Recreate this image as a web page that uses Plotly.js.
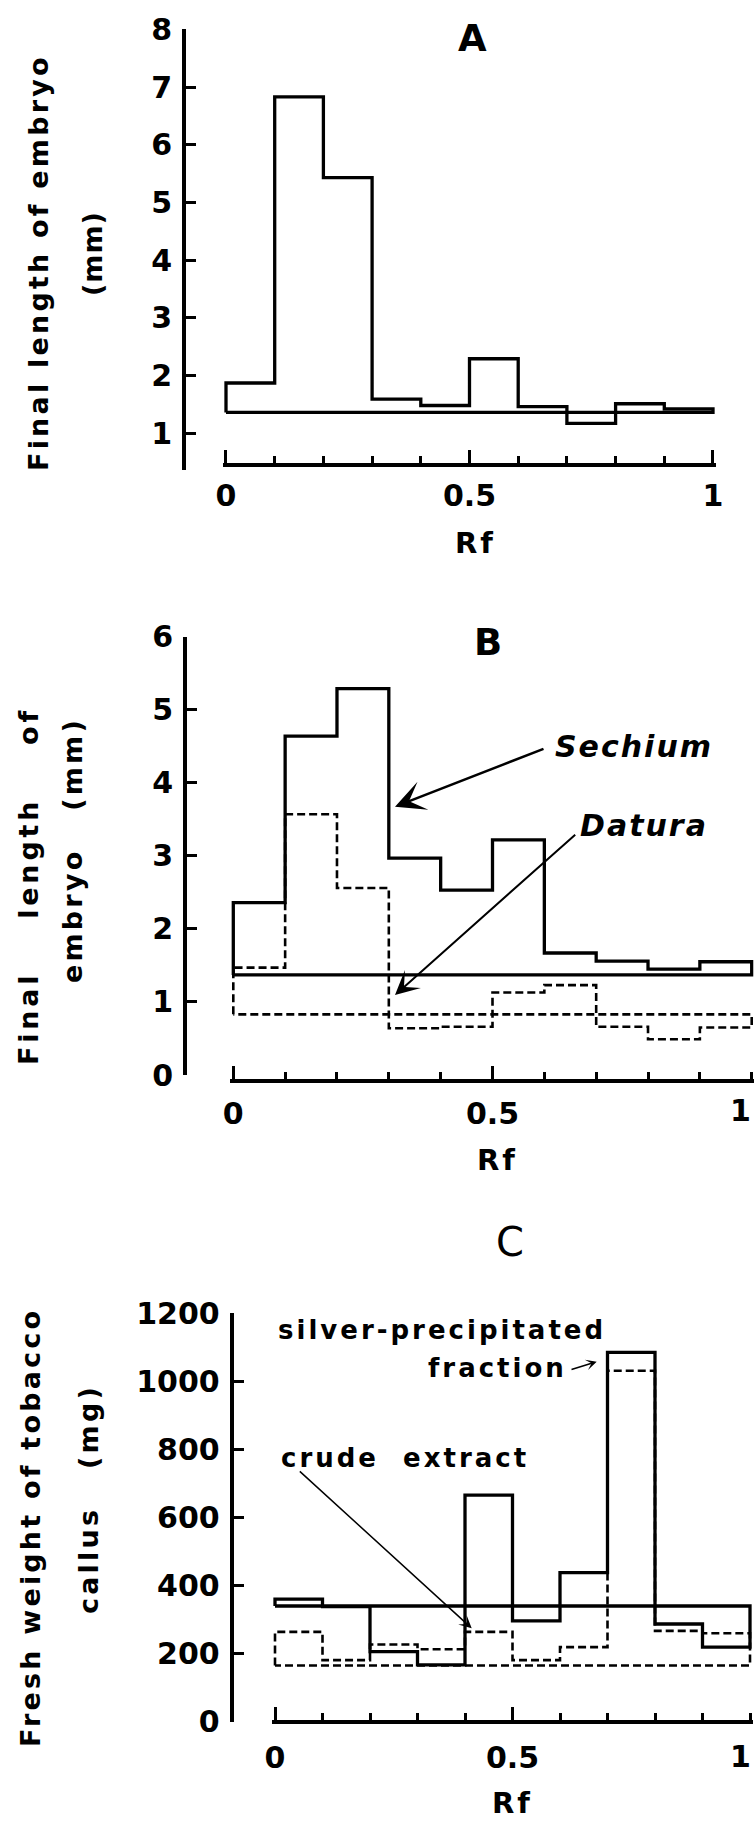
<!DOCTYPE html>
<html><head><meta charset="utf-8">
<script src="https://cdn.plot.ly/plotly-3.0.1.min.js"></script>
<style>
html,body{margin:0;padding:0;background:#fff;}
#chart{width:754px;height:1823px;}
</style>
</head><body><div id="chart"></div>
<script>
// ---------------- data ----------------
const rfEdges = [0, 0.1, 0.2, 0.3, 0.4, 0.5, 0.6, 0.7, 0.8, 0.9, 1.0];
const rfTickVals = [0, 0.5, 1];
const rfTickText = ['0', '0.5', '1'];
const rfTickTextEdge = ['0', '0.5', ''];   // right-edge panels: the "1" is written as an annotation inside the page

// Panel A: final length of embryo (mm)
const aLength = [1.87, 6.83, 5.43, 1.59, 1.48, 2.29, 1.46, 1.17, 1.51, 1.42];
const aControl = 1.36;
const aYTicks = [1, 2, 3, 4, 5, 6, 7, 8];

// Panel B: Sechium (solid) and Datura (dashed)
const bSechium = [2.36, 4.64, 5.29, 2.97, 2.53, 3.22, 1.67, 1.56, 1.45, 1.55];
const bSechiumControl = 1.37;
const bDatura = [1.47, 3.57, 2.56, 0.64, 0.66, 1.13, 1.23, 0.66, 0.49, 0.65];
const bDaturaControl = 0.83;
const bYTicks = [0, 1, 2, 3, 4, 5, 6];

// Panel C: fresh weight of tobacco callus (mg)
const cSilver = [360, 338, 206, 167, 666, 296, 438, 1085, 287, 219];
const cSilverControl = 340;
const cCrude = [264, 181, 227, 213, 264, 181, 219, 1031, 267, 260];
const cCrudeControl = 165;
const cYTicks = [0, 200, 400, 600, 800, 1000, 1200];

// ---------------- helpers ----------------
const W = 754, H = 1823;
const fx = p => p / W, fy = p => 1 - p / H;
const FONT = 'DejaVu Sans';

function stepOutline(edges, vals, base) {
  const x = [edges[0]], y = [base];
  for (let i = 0; i < vals.length; i++) {
    x.push(edges[i], edges[i + 1]);
    y.push(vals[i], vals[i]);
  }
  x.push(edges[edges.length - 1], edges[0]);
  y.push(base, base);
  return {x, y};
}
function trace(o, xa, ya, dash, width, name) {
  return {type: 'scatter', mode: 'lines', x: o.x, y: o.y, xaxis: xa, yaxis: ya, name: name,
    line: {color: '#000', width: width, dash: dash, shape: 'linear'}, hoverinfo: 'skip', showlegend: false};
}
const TICK_SIZE = 30;
const tickFont = {family: FONT, size: TICK_SIZE, color: '#000', weight: 'bold'};
function xAxis(p0, p1, lo, hi, linePos, standoff, ticktext) {
  const s = p1 - p0;
  return {domain: [fx(p0 + lo * s), Math.min(1, fx(p0 + hi * s))], range: [lo, hi],
    anchor: 'free', position: fy(linePos), showline: true, linewidth: 4, linecolor: '#000',
    ticks: 'inside', ticklen: 13, tickwidth: 3, tickcolor: '#000',
    tickmode: 'array', tickvals: rfTickVals, ticktext: ticktext,
    minor: {tickmode: 'array', tickvals: rfEdges, ticks: 'inside', ticklen: 7, tickwidth: 3, tickcolor: '#000', showgrid: false},
    showgrid: false, zeroline: false, tickfont: tickFont, ticklabelstandoff: standoff, fixedrange: true};
}
function yAxis(pTop, pBot, lo, hi, pos, tickvals, standoff) {
  return {domain: [fy(pBot), fy(pTop)], range: [lo, hi], anchor: 'free', position: fx(pos), side: 'left',
    showline: true, linewidth: 4, linecolor: '#000', ticks: 'inside', ticklen: 10, tickwidth: 3, tickcolor: '#000',
    tickmode: 'array', tickvals: tickvals, showgrid: false, zeroline: false, tickfont: tickFont,
    ticklabelstandoff: standoff, fixedrange: true};
}
function label(text, x, y, size, o) {
  o = o || {};
  const sp = o.spacing != null ? o.spacing : 0;
  return {xref: 'paper', yref: 'paper', x: fx(x), y: fy(y), xanchor: o.xanchor || 'center', yanchor: o.yanchor || 'middle',
    showarrow: false, textangle: o.angle || 0,
    text: sp ? '<span style="letter-spacing:' + sp + 'px">' + text + '</span>' : text,
    font: {family: FONT, size: size, color: '#000', weight: o.weight || 'bold', style: o.style || 'normal'}};
}
function arrow(hx, hy, tx, ty, width, size) {
  return {xref: 'paper', yref: 'paper', x: fx(hx), y: fy(hy), ax: tx - hx, ay: ty - hy,
    axref: 'pixel', ayref: 'pixel', text: '', showarrow: true, arrowhead: 3, arrowsize: size,
    arrowwidth: width, arrowcolor: '#000', standoff: 0};
}
const NB = '\u00a0';
const DASH = '8px,4px';

// ---------------- traces ----------------
const data = [
  trace(stepOutline(rfEdges, aLength, aControl), 'x', 'y', 'solid', 3.3, 'Panel A'),
  trace(stepOutline(rfEdges, bSechium, bSechiumControl), 'x2', 'y2', 'solid', 3.3, 'Sechium'),
  trace(stepOutline(rfEdges, bDatura, bDaturaControl), 'x2', 'y2', DASH, 2.6, 'Datura'),
  trace(stepOutline(rfEdges, cSilver, cSilverControl), 'x3', 'y3', 'solid', 3.3, 'silver-precipitated fraction'),
  trace(stepOutline(rfEdges, cCrude, cCrudeControl), 'x3', 'y3', DASH, 2.6, 'crude extract')
];

// ---------------- layout ----------------
const layout = {
  width: W, height: H, margin: {l: 0, r: 0, t: 0, b: 0, pad: 0},
  paper_bgcolor: '#fff', plot_bgcolor: 'rgba(0,0,0,0)', showlegend: false,
  xaxis: xAxis(226, 713, -0.006, 1.006, 465, 3, rfTickText),
  yaxis: yAxis(29.3, 470, 0.362, 8, 184, aYTicks, 4),
  xaxis2: xAxis(233.3, 751.7, -0.006, 1.004, 1081, 5, rfTickTextEdge),
  yaxis2: yAxis(636.7, 1075, 0, 6, 185, bYTicks, 4),
  xaxis3: xAxis(275, 750, -0.006, 1.006, 1721.7, 8, rfTickTextEdge),
  yaxis3: yAxis(1313.3, 1721.7, 0, 1200, 231.7, cYTicks, 4),
  annotations: [
    // panel titles
    label('A', 472, 38, 37),
    label('B', 488, 642, 37),
    label('C', 510, 1242, 40, {weight: 'normal'}),
    // x titles
    label('Rf', 475, 543, 29, {spacing: 3}),
    label('Rf', 497, 1160, 29, {spacing: 3}),
    label('Rf', 512, 1822, 29, {spacing: 3, yanchor: 'bottom'}),
    // "1" tick labels of the panels that reach the right edge
    label('1', 753, 1110, TICK_SIZE, {xanchor: 'right'}),
    label('1', 753, 1756, TICK_SIZE, {xanchor: 'right'}),
    // y titles
    label('Final length of embryo', 38, 263, 27, {angle: -90, spacing: 3.2}),
    label('(mm)', 92, 254, 27, {angle: -90, spacing: 1}),
    label('Final' + NB + NB + NB + NB + 'length' + NB + NB + NB + NB + 'of', 28, 886, 27, {angle: -90, spacing: 3.8}),
    label('embryo' + NB + NB + NB + '(mm)', 72, 850, 27, {angle: -90, spacing: 3.2}),
    label('Fresh weight of tobacco', 30, 1528, 27, {angle: -90, spacing: 3.2}),
    label('callus' + NB + NB + NB + '(mg)', 88, 1499, 27, {angle: -90, spacing: 3.2}),
    // panel B labels
    label('Sechium', 634, 746, 30, {style: 'italic', spacing: 2}),
    label('Datura', 644, 826, 30, {style: 'italic', spacing: 2}),
    arrow(395, 806.7, 545, 748.3, 2.5, 2),
    arrow(395, 995, 576.7, 833.3, 2, 2),
    // panel C labels
    label('silver-precipitated', 442, 1330, 26, {spacing: 3}),
    label('fraction', 497, 1368, 26, {spacing: 3}),
    label('crude' + NB + NB + 'extract', 405, 1458, 26, {spacing: 3}),
    arrow(596.7, 1361.7, 570, 1370, 1.5, 1.2),
    arrow(471.7, 1628.3, 298.3, 1470, 1.5, 1.4)
  ]
};

Plotly.newPlot('chart', data, layout, {staticPlot: true, displayModeBar: false});
</script>
</body></html>
